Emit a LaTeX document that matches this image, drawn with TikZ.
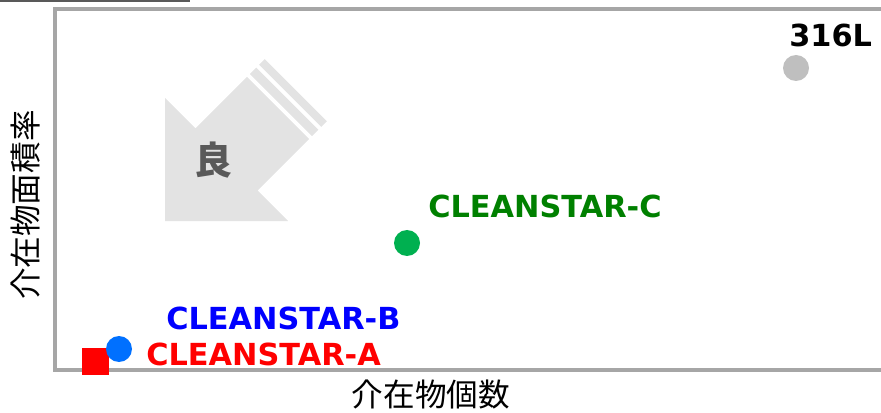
\documentclass[tikz,border=0pt]{standalone}
\usepackage{fontspec}
\setmainfont{DejaVu Sans}
\newfontfamily\jpfont{Noto Sans CJK JP}
\definecolor{topgray}{HTML}{595959}
\definecolor{framegray}{HTML}{A6A6A6}
\definecolor{arrowgray}{HTML}{E3E3E3}
\definecolor{goodgray}{HTML}{595959}
\definecolor{dotgray}{HTML}{BFBFBF}
\definecolor{dotgreen}{HTML}{00B050}
\definecolor{textgreen}{HTML}{008000}
\definecolor{dotblue}{HTML}{0070FF}
\tikzset{
    lbl/.style={font=\bfseries\fontsize{21.6}{26}\selectfont, inner sep=0pt, anchor=base west},
    datadot/.style={circle, inner sep=0pt, minimum size=0.65cm},
    axis label/.style={font=\jpfont\fontsize{22.5}{27}\selectfont, text=black},
}
\begin{document}
\begin{tikzpicture}
        \useasboundingbox (0,0) rectangle (22.025,10.3);
        % Linea superior
        \fill[topgray] (0,10.24) rectangle (4.75,10.3);
        % Marco
        \draw[framegray, line width=2.5pt] (1.375,1.05) rectangle (22.06,10.075);
        \node[axis label] (xlab) at (10.775,0.425) {介在物個数};
        \node[axis label, rotate=90] (ylab) at (0.65,5.175) {介在物面積率};

        % Flecha
        \begin{scope}[shift={(4.125,4.775)}, rotate=45, x=0.025cm, y=0.025cm]
            \fill[arrowgray] (0,0) -- (87,87) -- (87,44) -- (160,44) -- (160,-44)
                -- (87,-44) -- (87,-87) -- cycle;
            \fill[arrowgray] (164,-44) rectangle (173,44);
            \fill[arrowgray] (177,-44) rectangle (185,44);
        \end{scope}
        \node[font=\jpfont\bfseries\fontsize{27}{32}\selectfont, text=goodgray] (good) at (5.325,6.3) {良};

        % Puntos
        \node[fill=red, minimum size=0.675cm, inner sep=0pt] (pA) at (2.3875,1.2625) {};
        \foreach \n/\x/\y/\c in {
            p316/19.9/8.6/dotgray,
            pC/10.175/4.225/dotgreen,
            pB/2.975/1.575/dotblue} {
            \node[datadot, fill=\c] (\n) at (\x,\y) {};
        }

        % Etiquetas
        \foreach \n/\x/\y/\c/\t in {
            t316/19.725/9.125/black/316L,
            tC/10.7/4.85/textgreen/CLEANSTAR-C,
            tB/4.15/2.075/blue/CLEANSTAR-B,
            tA/3.65/1.175/red/CLEANSTAR-A} {
            \node[lbl, text=\c] (\n) at (\x,\y) {\t};
        }
\end{tikzpicture}
\end{document}
